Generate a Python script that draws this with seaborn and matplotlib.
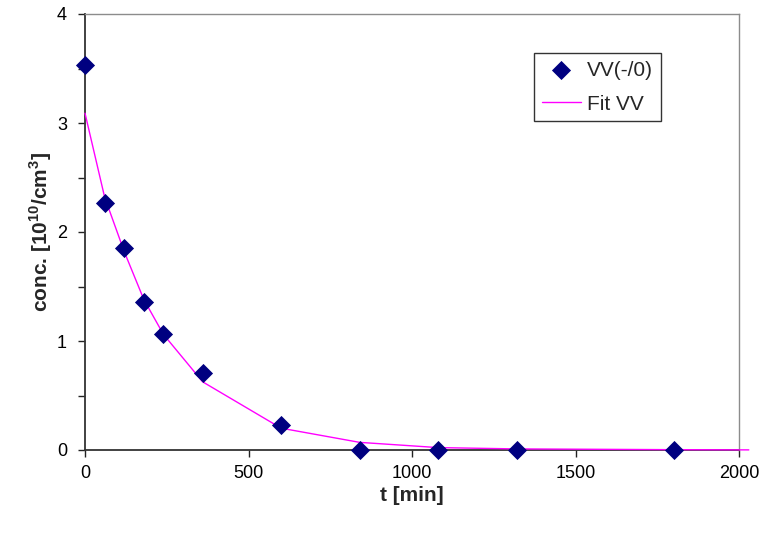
import matplotlib
matplotlib.use("Agg")
import matplotlib.pyplot as plt
from matplotlib.ticker import FixedLocator, FuncFormatter
import seaborn as sns
import pandas as pd

# Measured concentrations of VV(-/0)
t_meas = [0, 60, 120, 180, 240, 360, 600, 840, 1080, 1320, 1800]
conc_meas = [3.53, 2.27, 1.85, 1.36, 1.06, 0.71, 0.23, 0.0, 0.0, 0.0, 0.0]

# Fitted decay curve
t_fit = [0, 60, 120, 180, 240, 360, 600, 840, 1080, 1320, 1800, 2030]
conc_fit = [3.09, 2.32, 1.82, 1.38, 1.06, 0.625, 0.20, 0.07, 0.022, 0.01, 0.003, 0.001]

x_ticks = [0, 500, 1000, 1500, 2000]
y_ticks = [0, 0.5, 1, 1.5, 2, 2.5, 3, 3.5, 4]

meas = pd.DataFrame({"t": t_meas, "conc": conc_meas})
fit = pd.DataFrame({"t": t_fit, "conc": conc_fit})

sns.set_theme(style="white")
plt.rcParams["font.family"] = ["Liberation Sans", "DejaVu Sans"]
plt.rcParams["mathtext.fontset"] = "custom"
plt.rcParams["mathtext.bf"] = "Liberation Sans:bold"
plt.rcParams["mathtext.rm"] = "Liberation Sans"

fig = plt.figure(figsize=(7.64, 5.35), dpi=100)
ax = fig.add_axes([85 / 764, 1 - 450 / 535, 654 / 764, 436 / 535])

sns.lineplot(data=fit, x="t", y="conc", ax=ax, color="#FF00FF", linewidth=1.0,
             label="Fit VV", clip_on=False, zorder=3)
sns.scatterplot(data=meas, x="t", y="conc", ax=ax, marker="D", s=95,
                color="#000080", edgecolor="#000080", linewidth=0,
                label="VV(-/0)", clip_on=False, zorder=5)

ax.set_xlim(0, 2000)
ax.set_ylim(0, 4)
ax.xaxis.set_major_locator(FixedLocator(x_ticks))
ax.yaxis.set_major_locator(FixedLocator(y_ticks))
ax.yaxis.set_major_formatter(FuncFormatter(lambda v, p: f"{int(v)}" if v == int(v) else ""))

ax.tick_params(axis="both", direction="out", length=5, width=1, color="#222222",
               labelsize=13, left=True, bottom=True, labelcolor="black")
ax.tick_params(axis="y", pad=8)
ax.tick_params(axis="x", pad=6)

for side in ["left", "bottom"]:
    ax.spines[side].set_color("#333333")
    ax.spines[side].set_linewidth(1.3)
for side in ["top", "right"]:
    ax.spines[side].set_color("#8c8c8c")
    ax.spines[side].set_linewidth(1.0)

ax.set_xlabel("t [min]", fontsize=15, fontweight="bold", labelpad=3)
ax.set_ylabel(r"conc. [10$^{\mathbf{10}}$/cm$^{\mathbf{3}}$]", fontsize=15,
              fontweight="bold", labelpad=2)

handles, labels = ax.get_legend_handles_labels()
order = [labels.index("VV(-/0)"), labels.index("Fit VV")]
leg = ax.legend([handles[i] for i in order], [labels[i] for i in order],
                loc="upper left", bbox_to_anchor=((534 - 85) / 654, (450 - 53) / 436),
                frameon=True, fancybox=False, shadow=False, fontsize=15,
                borderpad=0.36, handlelength=1.9, labelspacing=0.72,
                handletextpad=0.3, borderaxespad=0)
leg.get_frame().set_edgecolor("black")
leg.get_frame().set_linewidth(1.0)

fig.savefig("out.png", dpi=100)
